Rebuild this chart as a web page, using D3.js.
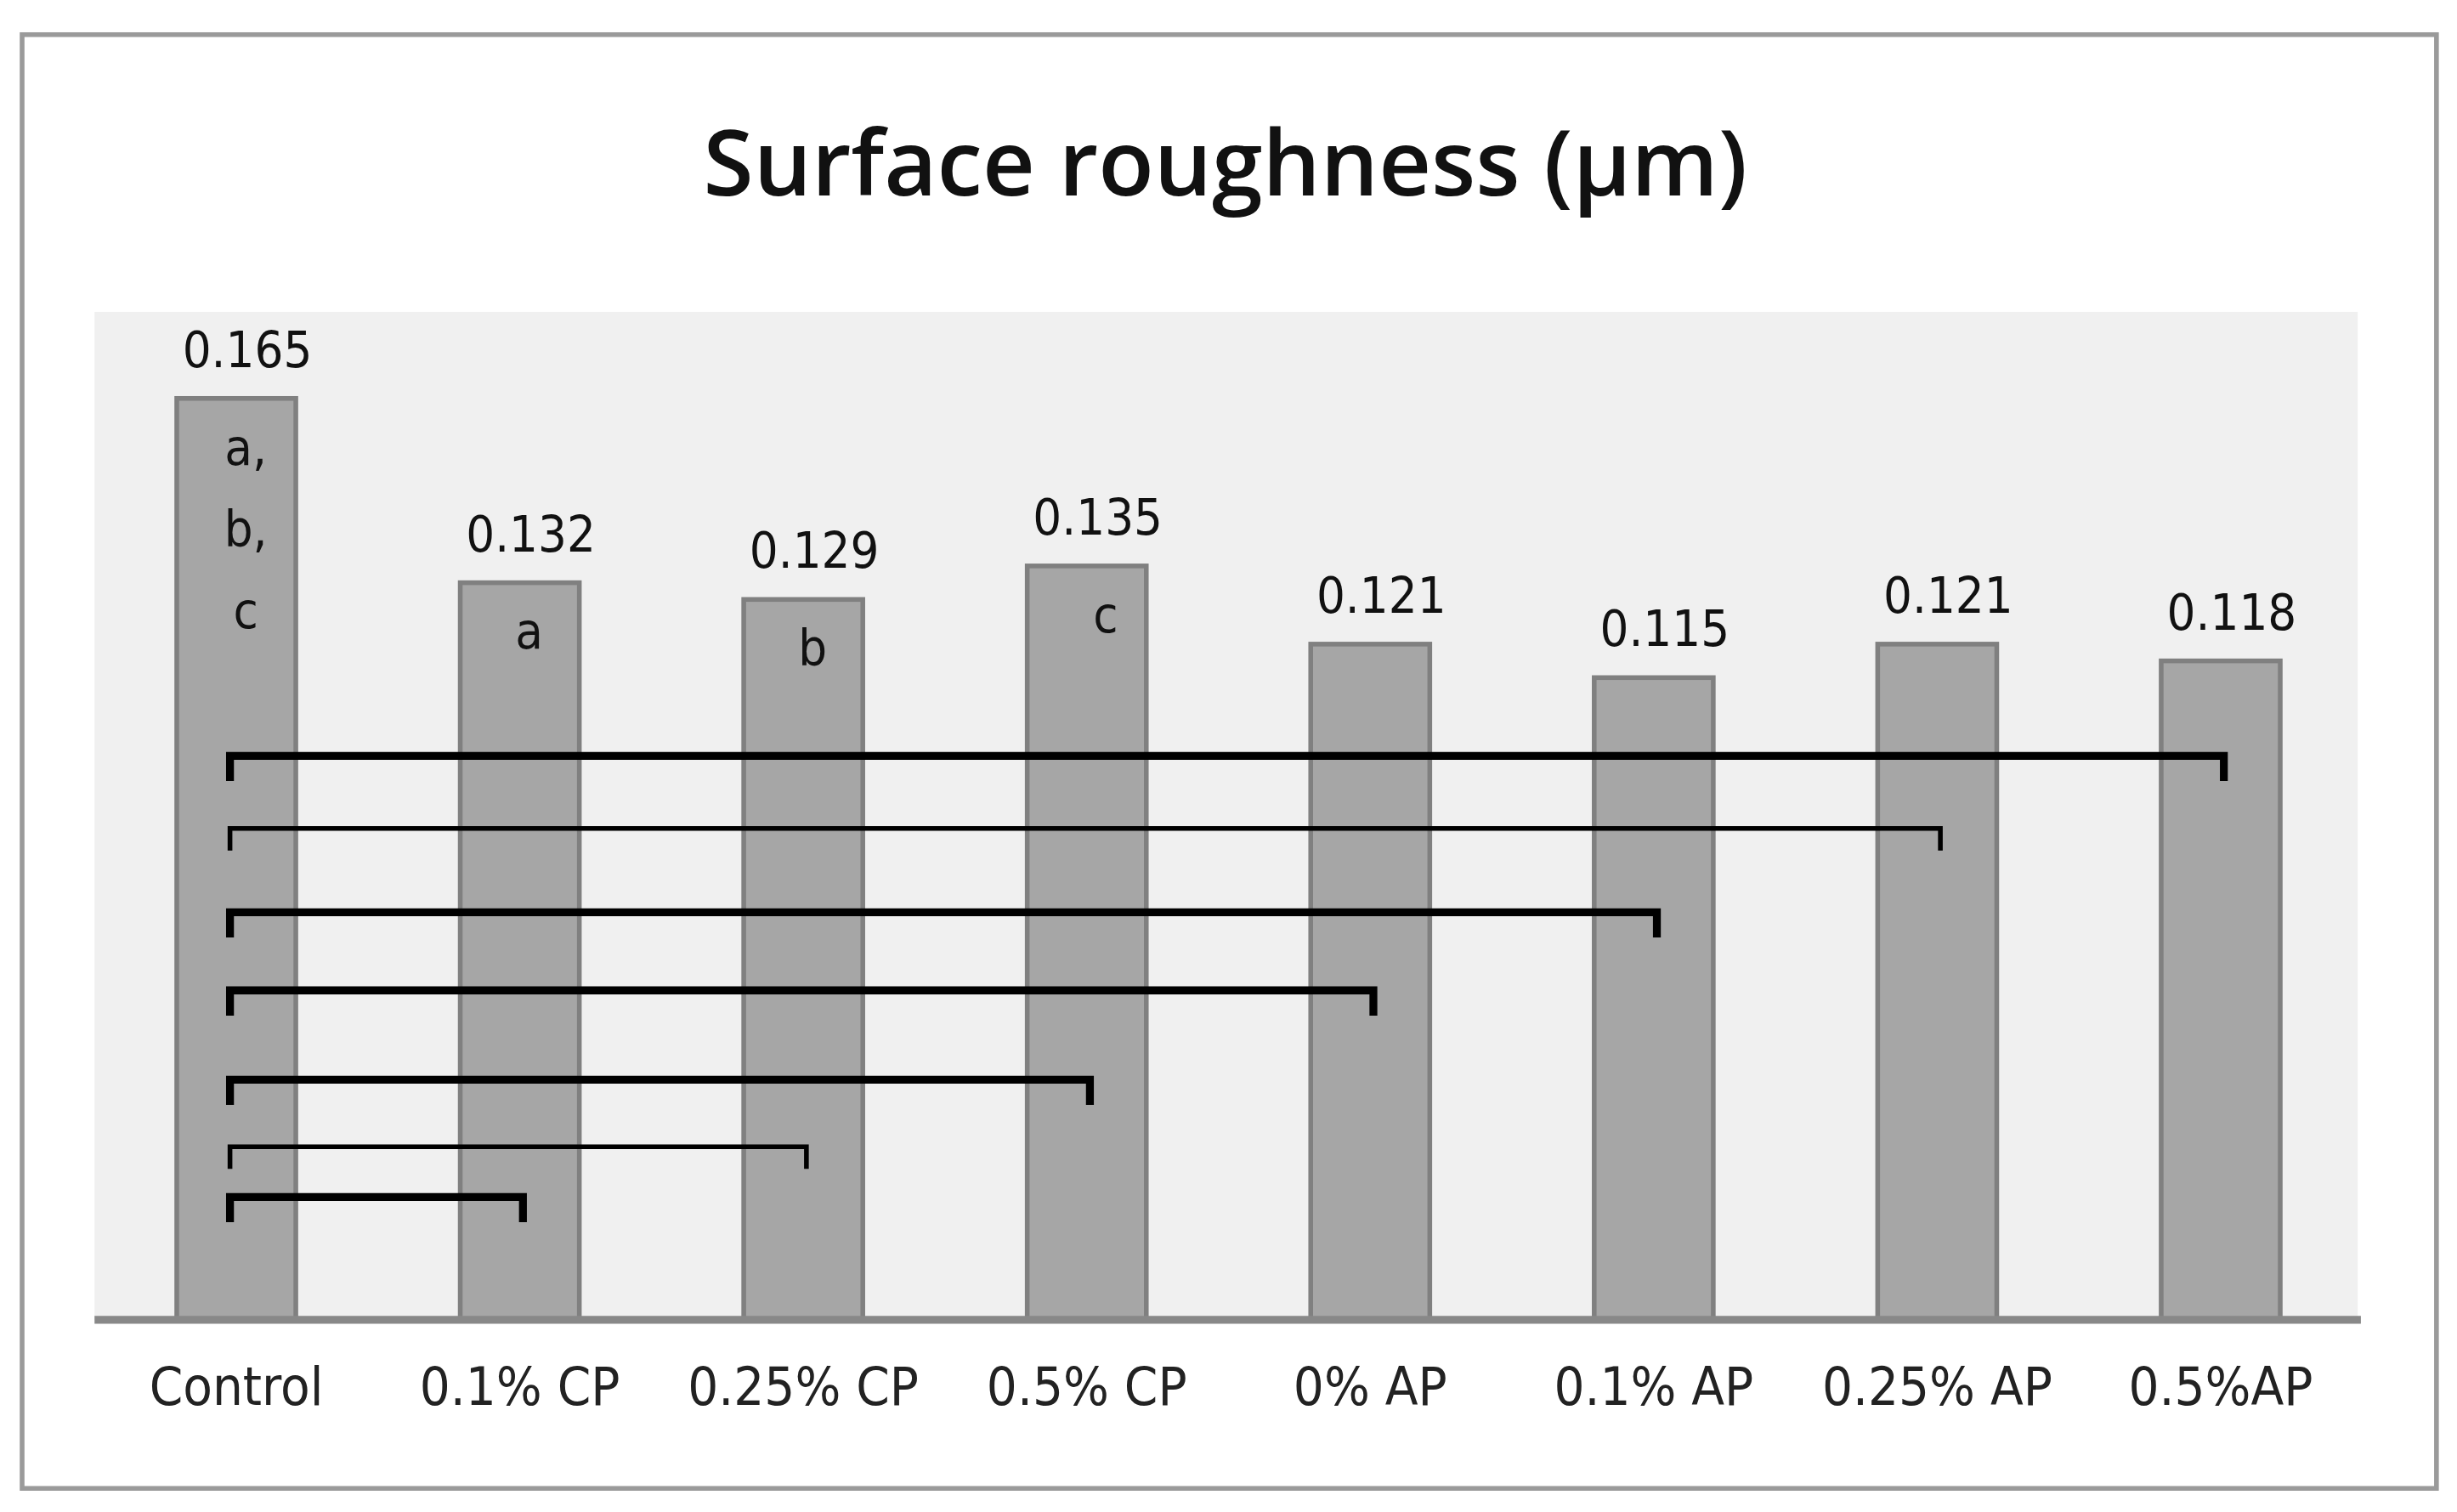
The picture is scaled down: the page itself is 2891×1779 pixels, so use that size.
<!DOCTYPE html><html><head><meta charset="utf-8">
<script src="https://cdn.jsdelivr.net/npm/d3@7"></script>
<style>body{margin:0;background:#fff}</style></head><body><svg id="c"></svg>
<script>
const categories=["Control","0.1% CP","0.25% CP","0.5% CP","0% AP","0.1% AP","0.25% AP","0.5%AP"];
const values=[0.165,0.132,0.129,0.135,0.121,0.115,0.121,0.118];
const valueLabels=["0.165","0.132","0.129","0.135","0.121","0.115","0.121","0.118"];
const letters=[["a,","b,","c"],["a"],["b"],["c"],[],[],[],[]];
// comparison brackets: target category index, level y (value units), thick?
const brackets=[[7,0.101,true],[6,0.088,false],[5,0.073,true],[4,0.059,true],[3,0.043,true],[2,0.031,false],[1,0.022,true]];

const W=1560,H=960;
const svg=d3.select("#c").attr("width",2891).attr("height",1779).attr("viewBox",`0 0 ${W} ${H}`);
svg.append("rect").attr("x",14).attr("y",22).attr("width",1533).attr("height",923).attr("fill","#fff").attr("stroke","#9a9a9a").attr("stroke-width",3);
svg.append("text").attr("x",778).attr("y",124).attr("text-anchor","middle").attr("font-family","Open Sans").attr("font-weight","600").attr("font-size",58).attr("fill","#111").text("Surface roughness (µm)");
const x0=60,x1=1497,yTop=198,yBase=838;
svg.append("rect").attr("x",x0).attr("y",yTop).attr("width",x1-x0).attr("height",yBase-yTop).attr("fill","#f0f0f0");
const x=d3.scaleBand().domain(categories).range([60,1500]).paddingInner(0.58).paddingOuter(0.29);
const y=d3.scaleLinear().domain([0,0.1805]).range([yBase,yTop]);
const font="DejaVu Sans Condensed";
svg.selectAll("rect.bar").data(values).join("rect").attr("class","bar")
 .attr("x",(d,i)=>x(categories[i])).attr("y",d=>y(d)).attr("width",x.bandwidth()).attr("height",d=>yBase-y(d))
 .attr("fill","#a6a6a6").attr("stroke","#808080").attr("stroke-width",3);
const cx=i=>x(categories[i])+x.bandwidth()/2;
svg.selectAll("text.val").data(valueLabels).join("text").attr("x",(d,i)=>cx(i)+7).attr("y",(d,i)=>y(values[i])-20)
 .attr("text-anchor","middle").attr("font-family",font).attr("font-size",32).attr("fill","#111").text(d=>d);
letters.forEach((ls,i)=>ls.forEach((l,j)=>{
 svg.append("text").attr("x",cx(i)+(i==3?12:6)).attr("y",y(values[i])+42+j*52).attr("text-anchor","middle")
  .attr("font-family",font).attr("font-size",32).attr("fill","#111").text(l);
}));
const ax=d3.axisBottom(x).tickSize(0).tickPadding(30);
const g=svg.append("g").attr("transform",`translate(0,${yBase})`).call(ax);
g.select(".domain").remove();
svg.append("line").attr("x1",60).attr("x2",1499).attr("y1",yBase).attr("y2",yBase).attr("stroke","#888").attr("stroke-width",5);
g.selectAll("text").attr("font-family",font).attr("font-size",34).attr("fill","#222");
brackets.forEach(([t,v,thick])=>{
 const yy=y(v),sw=thick?5:3,xa=cx(0)-4,xb=cx(t)+2,dn=thick?16:14;
 svg.append("path").attr("d",`M${xa},${yy+dn}V${yy}H${xb}V${yy+dn}`).attr("fill","none").attr("stroke","#000").attr("stroke-width",sw);
});
</script></body></html>
